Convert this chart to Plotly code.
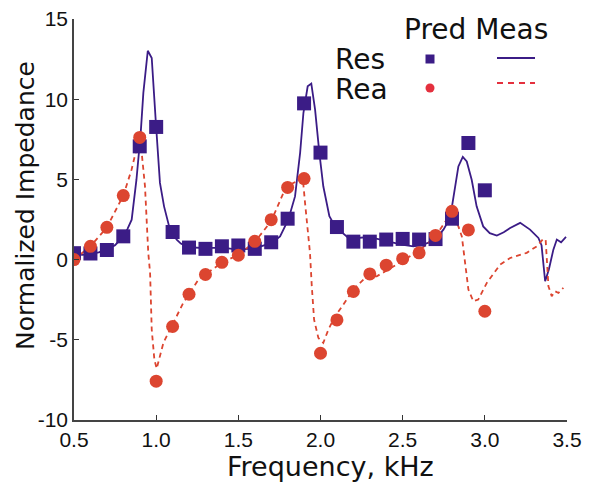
import plotly.graph_objects as go

# ---- data ----
pred_freq = [0.5, 0.6, 0.7, 0.8, 0.9, 1.0, 1.1, 1.2, 1.3, 1.4, 1.5, 1.6, 1.7, 1.8, 1.9,
             2.0, 2.1, 2.2, 2.3, 2.4, 2.5, 2.6, 2.7, 2.8, 2.9, 3.0]
pred_res = [0.4, 0.38, 0.6, 1.45, 7.06, 8.27, 1.72, 0.75, 0.67, 0.83, 0.88, 0.67, 1.08, 2.55, 9.74,
            6.67, 2.03, 1.12, 1.12, 1.25, 1.29, 1.25, 1.28, 2.55, 7.27, 4.32]
pred_rea = [0.0, 0.83, 2.01, 3.99, 7.62, -7.58, -4.17, -2.16, -0.93, -0.17, 0.27, 1.14, 2.49, 4.5, 5.05,
            -5.84, -3.76, -1.99, -0.89, -0.35, 0.06, 0.42, 1.51, 3.01, 1.85, -3.22]

meas_res_freq = [0.5, 0.55, 0.6, 0.65, 0.7, 0.75, 0.8, 0.825, 0.851, 0.88, 0.906, 0.922, 0.949, 0.973,
                 0.997, 1.023, 1.048, 1.084, 1.125, 1.15, 1.196, 1.25, 1.3, 1.4, 1.5, 1.6, 1.65, 1.703,
                 1.754, 1.804, 1.845, 1.876, 1.896, 1.922, 1.944, 1.967, 1.993, 2.017, 2.054, 2.089,
                 2.18, 2.196, 2.294, 2.4, 2.494, 2.565, 2.626, 2.693, 2.748, 2.789, 2.819, 2.839,
                 2.866, 2.89, 2.92, 2.95, 2.99, 3.03, 3.073, 3.115, 3.154, 3.215, 3.275, 3.326,
                 3.345, 3.367, 3.39, 3.417, 3.438, 3.464, 3.494]
meas_res = [0.35, 0.3, 0.35, 0.45, 0.62, 0.9, 1.45, 1.9, 2.49, 4.98, 7.9, 10.39, 13.02, 12.57,
            8.72, 4.78, 3.32, 1.87, 1.25, 1.0, 0.77, 0.75, 0.72, 0.75, 0.62, 0.7, 0.85, 1.04,
            1.45, 2.49, 3.94, 6.65, 9.14, 10.8, 10.97, 9.35, 6.65, 4.57, 2.7, 2.07,
            1.25, 1.33, 1.41, 1.18, 0.93, 0.83, 0.93, 1.2, 1.87, 2.6, 4.57, 5.81,
            6.4, 6.12, 4.98, 3.32, 2.07, 1.65, 1.5, 1.7, 1.97, 2.29, 1.87, 1.35,
            0.9, -1.35, -0.6, 0.62, 1.25, 1.08, 1.41]

meas_rea_freq = [0.5, 0.6, 0.7, 0.8, 0.85, 0.898, 0.912, 0.932, 0.952, 0.963, 0.973, 0.989, 1.003,
                 1.044, 1.084, 1.165, 1.257, 1.3, 1.4, 1.5, 1.6, 1.7, 1.79, 1.892, 1.906, 1.92,
                 1.936, 1.947, 1.961, 1.987, 2.017, 2.048, 2.089, 2.139, 2.2, 2.281, 2.342, 2.395,
                 2.494, 2.594, 2.693, 2.768, 2.789, 2.839, 2.86, 2.88, 2.9, 2.93, 2.96, 3.012,
                 3.093, 3.154, 3.255, 3.316, 3.356, 3.37, 3.387, 3.407, 3.427, 3.448, 3.478]
meas_rea = [0.0, 0.83, 2.01, 3.99, 5.6, 7.65, 6.65, 4.57, 0.42, -0.83, -4.36, -6.23, -6.8,
            -5.19, -4.36, -2.7, -1.25, -0.9, -0.2, 0.3, 1.1, 2.4, 4.53, 5.09, 3.53, 1.87,
            0.42, -1.66, -3.74, -4.88, -5.19, -4.36, -3.53, -2.8, -1.87, -1.04, -1.04, -0.73,
            -0.1, 0.52, 1.35, 2.49, 3.01, 2.07, 1.45, -0.42, -1.87, -2.6, -2.49, -1.45,
            -0.31, 0.1, 0.42, 0.83, 1.29, 1.25, -1.66, -2.28, -1.97, -2.08, -1.76]

x_ticks = [0.5, 1.0, 1.5, 2.0, 2.5, 3.0, 3.5]
x_ticktext = ["0.5", "1.0", "1.5", "2.0", "2.5", "3.0", "3.5"]
y_ticks = [-10, -5, 0, 5, 10, 15]
y_ticktext = ["-10", "-5", "0", "5", "10", "15"]

PURPLE = "#3b1c86"
RED = "#dc4530"
RED_LEG = "#e4303e"

fig = go.Figure()
fig.add_trace(go.Scatter(x=meas_res_freq, y=meas_res, mode="lines",
                         line=dict(color=PURPLE, width=1.8), showlegend=False))
fig.add_trace(go.Scatter(x=meas_rea_freq, y=meas_rea, mode="lines",
                         line=dict(color=RED, width=1.8, dash="5px,4px"), showlegend=False))
fig.add_trace(go.Scatter(x=pred_freq, y=pred_res, mode="markers",
                         marker=dict(symbol="square", size=14, color=PURPLE), showlegend=False))
fig.add_trace(go.Scatter(x=pred_freq, y=pred_rea, mode="markers",
                         marker=dict(symbol="circle", size=13, color=RED), showlegend=False))

# page offset from the default body margin
OFF = 8
W, H = 592 - OFF, 487 - OFF
L, R, T, B = 74 - OFF, 25, 19 - OFF, 67
pw, ph = W - L - R, H - T - B


def px(xp):
    return (xp - OFF - L) / pw


def py(yp):
    return (H - B - (yp - OFF)) / ph


tick_font = dict(family="Liberation Sans, Arial", size=21, color="#111")
fig.update_layout(
    width=W, height=H,
    margin=dict(l=L, r=R, t=T, b=B, autoexpand=False),
    paper_bgcolor="white", plot_bgcolor="white",
    xaxis=dict(range=[0.5, 3.5], tickvals=x_ticks, ticktext=x_ticktext, ticks="inside",
               ticklen=5, tickcolor="#333", showline=True, linecolor="#444", linewidth=1.5,
               showgrid=False, zeroline=False, tickfont=tick_font, automargin=False,
               ticklabeloverflow="allow"),
    yaxis=dict(range=[-10, 15], tickvals=y_ticks, ticktext=y_ticktext, ticks="inside",
               ticklen=5, tickcolor="#333", showline=True, linecolor="#444", linewidth=1.5,
               showgrid=False, zeroline=False, tickfont=tick_font, automargin=False,
               ticklabeloverflow="allow"),
)

title_family = "DejaVu Sans, Verdana, sans-serif"
fig.add_annotation(x=px(330), y=py(467), xref="paper", yref="paper", text="Frequency, kHz",
                   showarrow=False, font=dict(family=title_family, size=27, color="#111"),
                   xanchor="center", yanchor="middle")
fig.add_annotation(x=px(25), y=py(206), xref="paper", yref="paper", text="Normalized Impedance",
                   showarrow=False, font=dict(family=title_family, size=25, color="#111"),
                   textangle=-90, xanchor="center", yanchor="middle")

leg_font = dict(family=title_family, size=28, color="#111")
fig.add_annotation(x=px(476), y=py(30), xref="paper", yref="paper", text="Pred Meas",
                   showarrow=False, font=leg_font, xanchor="center", yanchor="middle")
fig.add_annotation(x=px(360), y=py(60), xref="paper", yref="paper", text="Res",
                   showarrow=False, font=leg_font, xanchor="center", yanchor="middle")
fig.add_annotation(x=px(361), y=py(89), xref="paper", yref="paper", text="Rea",
                   showarrow=False, font=leg_font, xanchor="center", yanchor="middle")
fig.add_shape(type="rect", xref="paper", yref="paper", x0=px(425.5), x1=px(434.5), y0=py(63.5), y1=py(54.5),
              fillcolor=PURPLE, line=dict(width=0))
fig.add_shape(type="circle", xref="paper", yref="paper", x0=px(425.5), x1=px(434.5), y0=py(92.5), y1=py(83.5),
              fillcolor=RED_LEG, line=dict(width=0))
fig.add_shape(type="line", xref="paper", yref="paper", x0=px(497), x1=px(535), y0=py(58), y1=py(58),
              line=dict(color=PURPLE, width=2))
fig.add_shape(type="line", xref="paper", yref="paper", x0=px(497), x1=px(535), y0=py(83), y1=py(83),
              line=dict(color=RED_LEG, width=2, dash="6px,5px"))

fig.write_html("out.html")
